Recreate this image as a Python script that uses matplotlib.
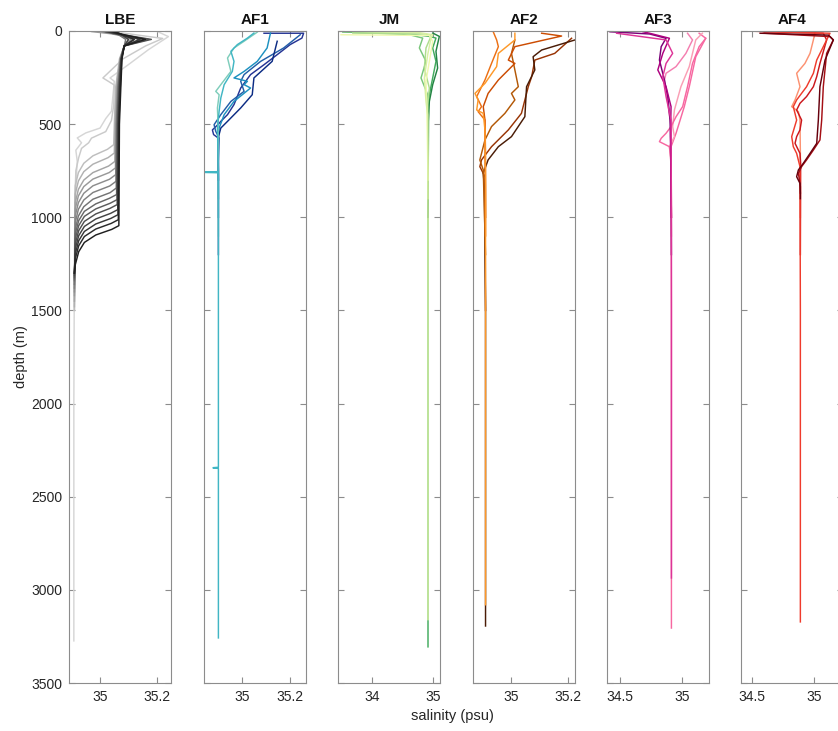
import matplotlib
matplotlib.use("Agg")
import matplotlib.pyplot as plt

plt.rcParams['font.family'] = ['Liberation Sans', 'DejaVu Sans']

# ---------------- data (depth in m, salinity in psu) ----------------
titles = ["LBE", "AF1", "JM", "AF2", "AF3", "AF4"]
xlims = [(34.891, 35.249), (34.840, 35.265), (33.44, 35.115),
         (34.867, 35.225), (34.397, 35.214), (34.411, 35.234)]
xticks = [[35, 35.2], [35, 35.2], [34, 35], [35, 35.2], [34.5, 35], [34.5, 35]]
xticklabels = [["35", "35.2"], ["35", "35.2"], ["34", "35"],
               ["35", "35.2"], ["34.5", "35"], ["34.5", "35"]]
yticks = [0, 500, 1000, 1500, 2000, 2500, 3000, 3500]

LBE_depth = [
    [2, 30, 100, 180, 252, 270, 350, 431, 470, 521, 547, 574, 600, 640, 700, 900, 1200, 2000, 3274],
    [2, 15, 40, 80, 150, 252, 290, 400, 480, 540, 575, 600, 630, 680, 750, 900, 1500],
    [3, 15, 45, 80, 150, 300, 500, 610, 635, 670, 710, 760, 830, 1500],
    [3, 15, 45, 80, 150, 300, 500, 655, 680, 715, 755, 805, 875, 1480],
    [3, 15, 45, 80, 150, 300, 500, 700, 725, 760, 800, 850, 920, 1450],
    [3, 15, 45, 80, 150, 300, 500, 735, 760, 795, 835, 885, 955, 1420],
    [3, 15, 45, 80, 150, 300, 500, 771, 796, 831, 871, 921, 991, 1400],
    [3, 15, 45, 80, 150, 300, 500, 807, 832, 867, 907, 957, 1027, 1380],
    [3, 15, 45, 80, 150, 300, 500, 843, 868, 903, 943, 993, 1063, 1360],
    [3, 15, 45, 80, 150, 300, 500, 878, 898, 928, 968, 1018, 1088, 1340],
    [3, 15, 45, 80, 150, 300, 500, 905, 925, 955, 995, 1045, 1115, 1330],
    [3, 15, 45, 80, 150, 300, 500, 932, 952, 982, 1022, 1072, 1142, 1320],
    [3, 15, 45, 80, 150, 300, 500, 959, 979, 1009, 1049, 1099, 1169, 1310],
    [3, 15, 45, 80, 150, 300, 500, 986, 1006, 1036, 1076, 1126, 1196, 1300],
    [3, 15, 45, 80, 150, 300, 500, 1013, 1033, 1063, 1103, 1153, 1223, 1300],
    [3, 15, 45, 80, 150, 300, 500, 1045, 1065, 1095, 1135, 1185, 1255, 1300],
]
LBE_sal = [
    [35.20, 35.24, 35.17, 35.10, 35.035, 35.05, 35.045, 35.04, 35.02, 35.0, 34.95, 34.92, 34.935, 34.915, 34.92, 34.912, 34.91, 34.908, 34.908],
    [35.02, 35.10, 35.22, 35.16, 35.08, 35.01, 35.05, 35.048, 35.04, 35.02, 34.97, 34.96, 34.935, 34.925, 34.915, 34.912, 34.91],
    [35.04, 35.06, 35.12, 35.085, 35.068, 35.055, 35.05, 35.048, 35.026, 34.975, 34.943, 34.924, 34.913, 34.91],
    [35.00, 35.05, 35.16, 35.085, 35.07, 35.057, 35.052, 35.05, 35.028, 34.975, 34.943, 34.924, 34.913, 34.91],
    [35.03, 35.06, 35.10, 35.085, 35.07, 35.059, 35.054, 35.052, 35.03, 34.975, 34.943, 34.924, 34.913, 34.91],
    [34.97, 35.04, 35.14, 35.085, 35.071, 35.061, 35.056, 35.054, 35.032, 34.975, 34.943, 34.924, 34.913, 34.91],
    [35.05, 35.07, 35.11, 35.085, 35.072, 35.062, 35.057, 35.055, 35.033, 34.975, 34.943, 34.924, 34.913, 34.91],
    [35.02, 35.05, 35.17, 35.085, 35.072, 35.063, 35.058, 35.056, 35.034, 34.975, 34.943, 34.924, 34.913, 34.91],
    [35.04, 35.06, 35.09, 35.085, 35.073, 35.064, 35.059, 35.057, 35.035, 34.975, 34.943, 34.924, 34.913, 34.91],
    [35.01, 35.05, 35.15, 35.085, 35.073, 35.065, 35.06, 35.058, 35.033, 34.985, 34.945, 34.925, 34.913, 34.91],
    [35.05, 35.07, 35.12, 35.085, 35.074, 35.067, 35.062, 35.06, 35.035, 34.985, 34.945, 34.925, 34.913, 34.91],
    [35.03, 35.06, 35.18, 35.085, 35.074, 35.067, 35.062, 35.06, 35.035, 34.985, 34.945, 34.925, 34.913, 34.91],
    [35.04, 35.07, 35.10, 35.085, 35.075, 35.069, 35.064, 35.062, 35.037, 34.985, 34.945, 34.925, 34.913, 34.91],
    [35.02, 35.06, 35.14, 35.085, 35.075, 35.07, 35.065, 35.063, 35.038, 34.985, 34.945, 34.925, 34.913, 34.91],
    [35.05, 35.07, 35.12, 35.085, 35.076, 35.071, 35.066, 35.064, 35.039, 34.985, 34.945, 34.925, 34.913, 34.91],
    [35.04, 35.07, 35.16, 35.085, 35.077, 35.073, 35.068, 35.066, 35.041, 34.985, 34.945, 34.925, 34.913, 34.91],
]

AF1_depth = [
    [12, 12, 38, 73, 127, 181, 234, 306, 395, 449, 485, 500, 531, 556, 575, 600, 1200],
    [20, 91, 163, 234, 270, 324, 378, 449, 503, 539, 574, 700, 1000],
    [11, 91, 163, 217, 252, 270, 288, 306, 378, 449, 521, 592, 900],
    [55, 163, 252, 342, 413, 485, 521, 574, 800],
    [6, 55, 91, 145, 217, 288, 324, 342, 413, 521, 1100],
    [11, 38, 73, 109, 163, 217, 288, 360, 431, 521, 699, 755, 757, 759, 761, 763, 2342, 2344, 2346, 2348, 3258],
]
AF1_sal = [
    [35.09, 35.255, 35.248, 35.199, 35.145, 35.09, 35.034, 34.993, 34.965, 34.938, 34.91, 34.90, 34.875, 34.88, 34.90, 34.90, 34.90],
    [35.241, 35.172, 35.076, 35.007, 34.993, 35.007, 34.952, 34.91, 34.882, 34.889, 34.903, 34.90, 34.90],
    [35.117, 35.103, 35.062, 35.007, 34.965, 35.021, 35.007, 35.034, 34.965, 34.924, 34.903, 34.899, 34.90],
    [35.145, 35.124, 35.048, 35.041, 34.993, 34.938, 34.91, 34.899, 34.90],
    [35.062, 35.007, 34.965, 34.938, 34.952, 34.91, 34.889, 34.903, 34.896, 34.899, 34.90],
    [35.048, 35.021, 34.979, 34.952, 34.965, 34.958, 34.924, 34.91, 34.903, 34.896, 34.899, 34.90, 34.83, 34.83, 34.90, 34.90, 34.90, 34.878, 34.878, 34.90, 34.90],
]

JM_depth = [
    [5, 20, 29, 38, 91, 163, 252, 342, 431, 1000, 3306],
    [0, 11, 38, 91, 163, 252, 342, 449, 1200],
    [11, 29, 109, 199, 288, 378, 485, 1000],
    [11, 16, 29, 91, 199, 306, 395, 900],
    [20, 24, 55, 163, 270, 413, 800],
    [2, 9, 20, 38, 127, 252, 378, 449, 1000, 3160],
]
JM_sal = [
    [33.519, 34.722, 34.94, 35.049, 34.995, 35.049, 34.995, 34.94, 34.913, 34.918, 34.918],
    [33.573, 34.503, 34.831, 34.776, 34.885, 34.803, 34.913, 34.925, 34.918],
    [34.995, 35.104, 35.049, 35.076, 34.995, 34.94, 34.925, 34.918],
    [33.683, 34.885, 34.967, 34.885, 34.858, 34.94, 34.913, 34.918],
    [33.49, 34.94, 34.995, 34.94, 34.885, 34.90, 34.918],
    [33.464, 34.776, 34.995, 34.967, 34.913, 34.858, 34.885, 34.913, 34.918, 34.918],
]

AF2_depth = [
    [39, 120, 156, 245, 299, 442, 531, 621, 692, 728, 782, 836, 1500],
    [48, 102, 138, 209, 299, 460, 567, 621, 692, 764, 836, 1500, 3194],
    [48, 120, 299, 335, 370, 442, 513, 585, 692, 746, 1200],
    [12, 27, 84, 156, 174, 263, 335, 406, 478, 1000],
    [4, 48, 84, 174, 263, 352, 406, 433, 478, 657, 1100],
    [12, 48, 120, 191, 281, 335, 370, 424, 442, 531, 836, 1500, 3080],
]
AF2_sal = [
    [35.213, 35.154, 35.084, 35.073, 35.061, 35.037, 34.991, 34.932, 34.897, 34.891, 34.909, 34.909, 34.911],
    [35.225, 35.108, 35.078, 35.084, 35.055, 35.049, 35.002, 34.956, 34.92, 34.903, 34.907, 34.911, 34.911],
    [35.014, 35.002, 35.026, 35.002, 35.014, 34.979, 34.932, 34.909, 34.891, 34.903, 34.911],
    [35.108, 35.178, 35.014, 34.991, 35.014, 34.956, 34.92, 34.903, 34.909, 34.911],
    [34.938, 34.95, 34.956, 34.932, 34.909, 34.88, 34.897, 34.885, 34.909, 34.911, 34.911],
    [35.014, 35.014, 34.956, 34.95, 34.909, 34.874, 34.885, 34.88, 34.903, 34.909, 34.911, 34.911, 34.911],
]

AF3_depth = [
    [12, 39, 138, 299, 406, 549, 621, 1000],
    [12, 48, 191, 299, 424, 513, 567, 621, 710, 1100],
    [39, 84, 174, 299, 406, 460, 513, 549, 576, 594, 621, 692, 1500, 3205],
    [12, 48, 120, 191, 227, 263, 388, 513, 1000],
    [4, 16, 39, 84, 156, 263, 352, 478, 657, 1200],
    [4, 12, 39, 120, 209, 299, 406, 567, 1000],
    [12, 48, 84, 120, 174, 245, 352, 478, 1000, 2936],
]
AF3_sal = [
    [35.135, 35.188, 35.108, 35.056, 35.016, 34.95, 34.91, 34.913],
    [35.161, 35.108, 35.056, 34.989, 34.937, 34.923, 34.937, 34.897, 34.91, 34.913],
    [35.188, 35.135, 35.082, 35.042, 35.003, 34.95, 34.91, 34.87, 34.831, 34.817, 34.897, 34.91, 34.913, 34.913],
    [35.042, 35.082, 35.029, 34.95, 34.87, 34.857, 34.884, 34.91, 34.913],
    [34.421, 34.738, 34.87, 34.831, 34.817, 34.857, 34.884, 34.902, 34.91, 34.913],
    [34.685, 34.738, 34.897, 34.844, 34.804, 34.87, 34.91, 34.905, 34.913],
    [34.474, 34.87, 34.897, 34.923, 34.87, 34.844, 34.87, 34.91, 34.913, 34.913],
]

AF4_depth = [
    [4, 48, 120, 174, 227, 299, 370, 406, 433, 478, 657, 1000],
    [4, 12, 48, 174, 245, 299, 352, 388, 424, 478, 531, 567, 603, 657, 710, 1200],
    [1, 12, 48, 156, 227, 299, 370, 406, 478, 567, 621, 657, 728, 1500, 3172],
    [12, 30, 48, 120, 299, 478, 585, 639, 692, 728, 764, 818, 836, 870],
    [12, 22, 48, 156, 299, 478, 603, 657, 710, 746, 782, 818, 871, 900],
]
AF4_sal = [
    [35.009, 34.995, 34.968, 34.927, 34.86, 34.887, 34.847, 34.82, 34.874, 34.887, 34.89, 34.89],
    [34.591, 35.075, 35.102, 35.048, 35.022, 34.995, 34.94, 34.887, 34.86, 34.90, 34.887, 34.86, 34.847, 34.887, 34.892, 34.89],
    [34.484, 35.129, 35.102, 35.022, 34.995, 34.94, 34.86, 34.833, 34.86, 34.82, 34.833, 34.86, 34.887, 34.89, 34.89],
    [34.60, 35.129, 35.156, 35.102, 35.075, 35.062, 35.048, 34.995, 34.94, 34.90, 34.874, 34.887, 34.89, 34.89],
    [34.565, 35.116, 35.156, 35.089, 35.048, 35.035, 35.022, 34.968, 34.914, 34.874, 34.86, 34.887, 34.89, 34.89],
]

# ---------------- styles ----------------
LBE_colors = [str(round(0.84 - 0.72 * i / 15, 3)) for i in range(16)]
AF1_colors = ["#253494", "#225ea8", "#1d91c0", "#0c2c84", "#7fcdbb", "#41b6c4"]
JM_colors = ["#41ab5d", "#78c679", "#238443", "#addd8e", "#f0f9b0", "#d9f0a3"]
AF2_colors = ["#993404", "#4a1c06", "#b35806", "#cc4c02", "#ec7014", "#fe9929"]
AF3_colors = ["#f768a1", "#fa9fb5", "#f768a1", "#f47fb0", "#7a0177", "#ae017e", "#dd3497"]
AF4_colors = ["#fc9272", "#cb181d", "#ef3b2c", "#a50f15", "#67000d"]

panels = [
    (LBE_depth, LBE_sal, LBE_colors),
    (AF1_depth, AF1_sal, AF1_colors),
    (JM_depth, JM_sal, JM_colors),
    (AF2_depth, AF2_sal, AF2_colors),
    (AF3_depth, AF3_sal, AF3_colors),
    (AF4_depth, AF4_sal, AF4_colors),
]

W, H = 838, 731
fig = plt.figure(figsize=(W / 100, H / 100), dpi=100)
lefts_px = [69, 204, 338, 473, 607, 741]
width_px = 102
top_px, bot_px = 31, 683
frame_col = "#8c8c8c"

for i, (deps, sals, cols) in enumerate(panels):
    ax = fig.add_axes([lefts_px[i] / W, 1 - bot_px / H, width_px / W, (bot_px - top_px) / H])
    for j, (d, s) in enumerate(zip(deps, sals)):
        ax.plot(s, d, color=cols[j], lw=1.05, solid_joinstyle='round')
    ax.set_xlim(*xlims[i])
    ax.set_ylim(3500, 0)
    ax.set_xticks(xticks[i])
    ax.set_xticklabels(xticklabels[i])
    ax.set_yticks(yticks)
    if i == 0:
        ax.set_yticklabels([str(v) for v in yticks])
        ax.set_ylabel("depth (m)", fontsize=10.5, color="#262626", labelpad=2)
    else:
        ax.set_yticklabels([])
    ax.tick_params(direction='in', length=4, width=0.8, color=frame_col,
                   top=True, right=True, labelsize=10, labelcolor="#262626", pad=5)
    for sp in ax.spines.values():
        sp.set_color(frame_col)
        sp.set_linewidth(0.8)
    ax.set_title(titles[i], fontsize=11, fontweight='bold', pad=5, color="#111111")

fig.text(452 / W, 1 - 716 / H, "salinity (psu)", ha='center', va='center',
         fontsize=10.5, color="#262626")

fig.savefig("out.png", dpi=100)
